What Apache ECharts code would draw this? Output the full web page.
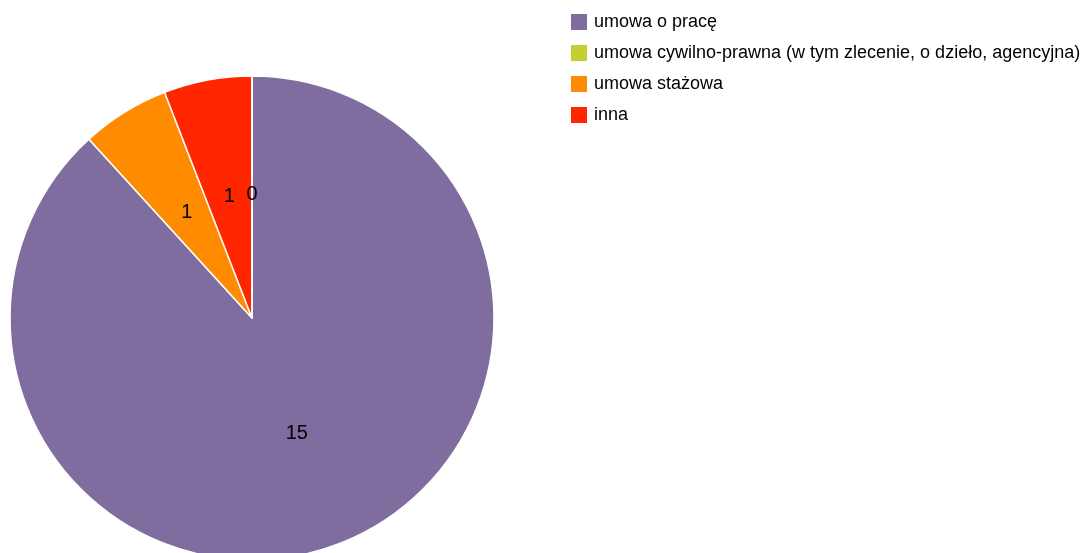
<!DOCTYPE html>
<html><head><meta charset="utf-8">
<script src="https://cdn.jsdelivr.net/npm/echarts@6/dist/echarts.min.js"></script>
<style>html,body{margin:0;padding:0;background:#fff}#c{width:1090px;height:553px}</style>
</head><body><div id="c"></div>
<script>
// Legend order
const categories = ['umowa o pracę', 'umowa cywilno-prawna (w tym zlecenie, o dzieło, agencyjna)', 'umowa stażowa', 'inna'];
const values = [15, 0, 1, 1];
const colors = ['#7f6da0', '#c4cf31', '#ff8c00', '#ff2600'];
// Drawing order of slices clockwise from top (index into categories)
const drawOrder = [0, 2, 3, 1];

const chart = echarts.init(document.getElementById('c'), null, {renderer: 'canvas'});
chart.setOption({
  animation: false,
  textStyle: {fontFamily: 'Liberation Sans, Arial, sans-serif'},
  legend: {
    orient: 'vertical', left: 571, top: 13, padding: 0,
    itemWidth: 16, itemHeight: 16, itemGap: 13,
    icon: 'rect',
    itemStyle: {borderWidth: 0},
    data: categories,
    textStyle: {fontSize: 18, color: '#000', padding: [0, 0, 0, 2], fontFamily: 'Liberation Sans, Arial, sans-serif'}
  },
  series: [{
    type: 'pie',
    center: [252, 318], radius: [0, 242],
    startAngle: 90, clockwise: true,
    avoidLabelOverlap: false,
    stillShowZeroSum: true,
    minShowLabelAngle: 0,
    label: {show: true, position: 'inside', formatter: '{c}', color: '#000', fontSize: 20, fontFamily: 'Liberation Sans, Arial, sans-serif'},
    labelLine: {show: false},
    emphasis: {disabled: true},
    itemStyle: {borderColor: '#fff', borderWidth: 1.5},
    data: drawOrder.map(i => ({name: categories[i], value: values[i], itemStyle: {color: colors[i]}}))
  }]
});
</script></body></html>
